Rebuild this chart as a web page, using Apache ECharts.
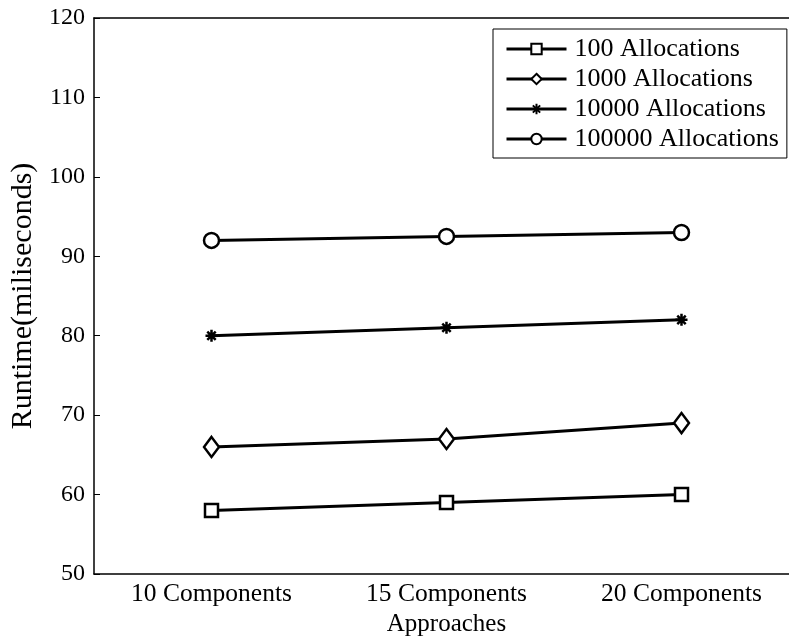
<!DOCTYPE html>
<html>
<head>
<meta charset="utf-8">
<script src="https://cdn.jsdelivr.net/npm/echarts@6/dist/echarts.min.js"></script>
<style>
  html, body { margin: 0; padding: 0; background: #fff; }
  #chart { width: 789px; height: 640px; }
</style>
</head>
<body>
<div id="chart"></div>
<script>
var categories = ['10 Components', '15 Components', '20 Components'];
var seriesNames = ['100 Allocations', '1000 Allocations', '10000 Allocations', '100000 Allocations'];
var alloc100 = [58, 59, 60];
var alloc1000 = [66, 67, 69];
var alloc10000 = [80, 81, 82];
var alloc100000 = [92, 92.5, 93];

var font = 'Liberation Serif, Times New Roman, serif';
var asterisk = 'path://M10 0 L10 20 M0 10 L20 10 M3 3 L17 17 M3 17 L17 3';

function makeSeries(name, data, symbol, size) {
    return {
        name: name,
        type: 'line',
        data: data,
        symbol: symbol,
        symbolSize: size,
        showAllSymbol: true,
        lineStyle: { color: '#000', width: 3 },
        itemStyle: { color: symbol === asterisk ? '#000' : '#fff', borderColor: '#000', borderWidth: 2.5 },
        emphasis: { disabled: true },
        animation: false
    };
}

var myChart = echarts.init(document.getElementById('chart'));
myChart.setOption({
    backgroundColor: '#fff',
    textStyle: { fontFamily: font },
    grid: { left: 94, top: 18, width: 705, height: 556, outerBoundsMode: 'none', containLabel: false },
    legend: {
        left: 493,
        top: 29,
        orient: 'vertical',
        itemWidth: 60,
        itemHeight: 13,
        itemGap: 4,
        padding: [7, 8, 6, 12],
        backgroundColor: '#fff',
        borderColor: '#000',
        borderWidth: 1,
        borderRadius: 0,
        lineStyle: { color: '#000', width: 3 },
        textStyle: { fontFamily: font, fontSize: 26, color: '#000', padding: [0, 0, 0, 3] },
        data: seriesNames
    },
    xAxis: [{
        type: 'category',
        data: categories,
        boundaryGap: true,
        name: 'Approaches',
        nameLocation: 'middle',
        nameGap: 37,
        nameTextStyle: { fontFamily: font, fontSize: 25, color: '#000' },
        axisLine: { lineStyle: { color: '#000', width: 1.5 } },
        axisTick: { inside: true, length: 6, alignWithLabel: true, lineStyle: { color: '#000' } },
        axisLabel: { fontFamily: font, fontSize: 25.5, color: '#000', margin: 7 },
        splitLine: { show: false }
    }, {
        type: 'category',
        data: categories,
        position: 'top',
        boundaryGap: true,
        axisLine: { lineStyle: { color: '#000', width: 1.5 } },
        axisTick: { inside: true, length: 6, alignWithLabel: true, lineStyle: { color: '#000' } },
        axisLabel: { show: false },
        splitLine: { show: false }
    }],
    yAxis: {
        type: 'value',
        min: 50,
        max: 120,
        interval: 10,
        name: 'Runtime(miliseconds)',
        nameLocation: 'middle',
        nameGap: 56,
        nameTextStyle: { fontFamily: font, fontSize: 30, color: '#000' },
        axisLine: { show: true, lineStyle: { color: '#000', width: 1.5 } },
        axisTick: { show: true, inside: true, length: 6, lineStyle: { color: '#000' } },
        axisLabel: { fontFamily: font, fontSize: 24, color: '#000', margin: 9 },
        splitLine: { show: false }
    },
    series: [
        makeSeries(seriesNames[0], alloc100, 'rect', 13),
        makeSeries(seriesNames[1], alloc1000, 'diamond', [15, 20]),
        makeSeries(seriesNames[2], alloc10000, asterisk, 12),
        makeSeries(seriesNames[3], alloc100000, 'circle', 15)
    ]
});
</script>
</body>
</html>
